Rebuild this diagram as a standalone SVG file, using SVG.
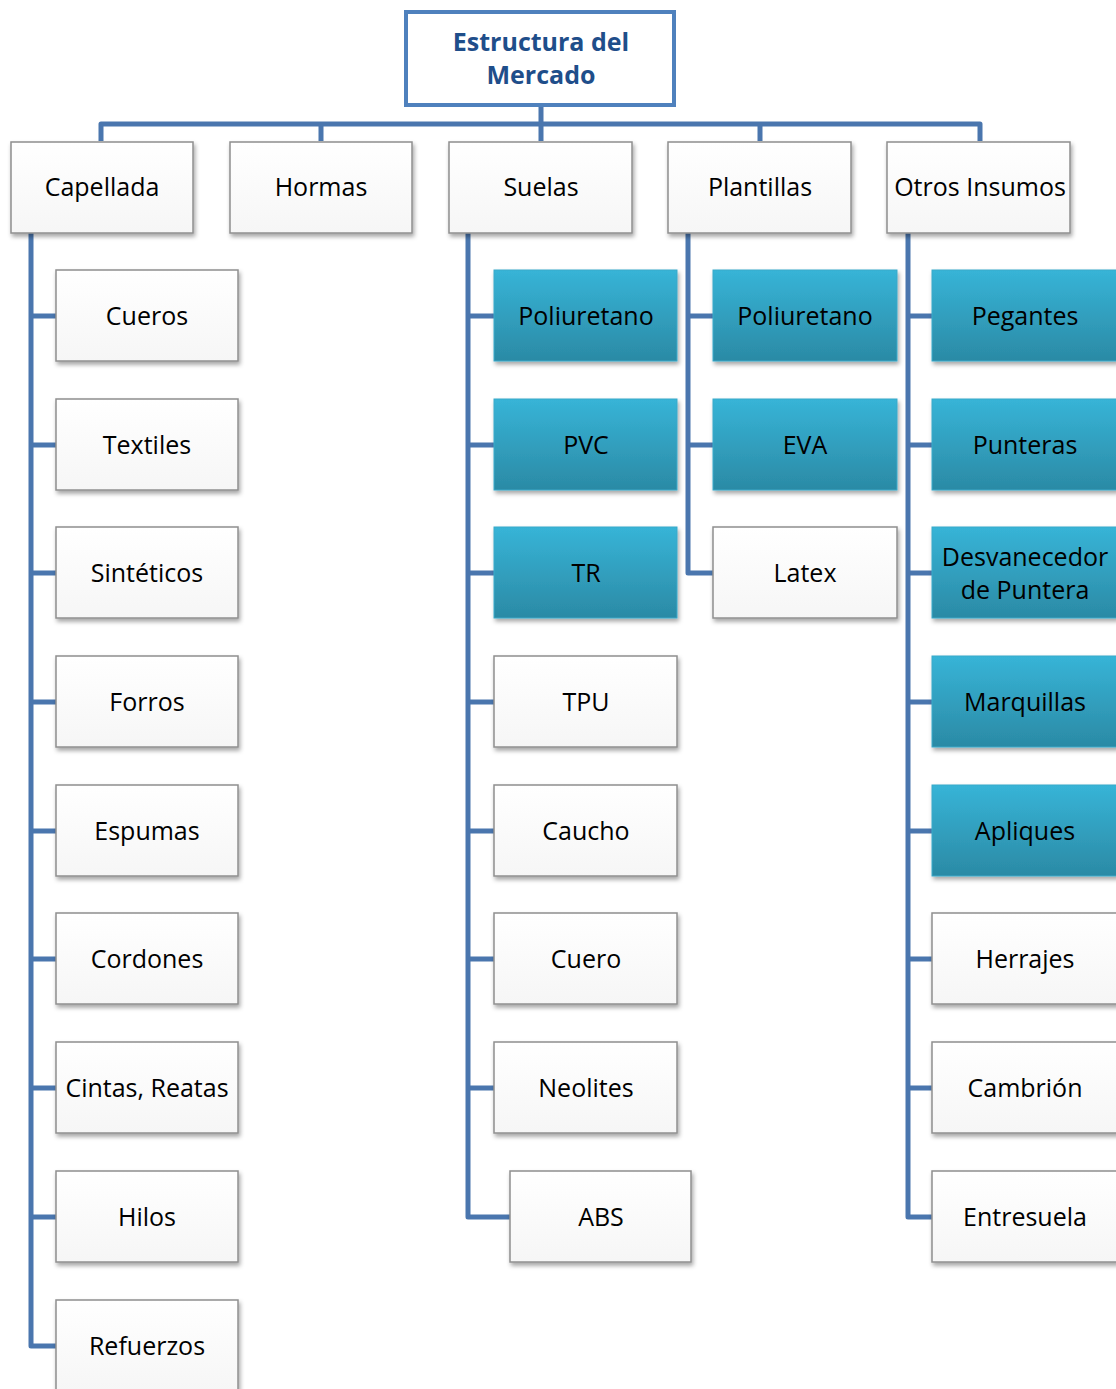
<svg xmlns="http://www.w3.org/2000/svg" width="1116" height="1389" viewBox="0 0 1116 1389">
  <defs>
    <linearGradient id="gWhite" x1="0" y1="0" x2="0" y2="1">
      <stop offset="0" stop-color="#ffffff"/>
      <stop offset="1" stop-color="#f6f6f6"/>
    </linearGradient>
    <linearGradient id="gTeal" x1="0" y1="0" x2="0" y2="1">
      <stop offset="0" stop-color="#37b4d7"/>
      <stop offset="1" stop-color="#2b8aa5"/>
    </linearGradient>
    <filter id="shadow" x="-10%" y="-10%" width="125%" height="130%">
      <feDropShadow dx="1.5" dy="3" stdDeviation="2" flood-color="#000" flood-opacity="0.35"/>
    </filter>
  </defs>
  <style>
    .conn { fill: none; stroke: #4a76ae; stroke-width: 5; stroke-linejoin: round; }
    .box { fill: url(#gWhite); stroke: #8f8f8f; stroke-width: 1.5; filter: url(#shadow); }
    .teal { fill: url(#gTeal); stroke: #3aa9c9; stroke-width: 1; filter: url(#shadow); }
    .root { fill: #ffffff; stroke: #4f81bd; stroke-width: 4; }
    .lbl { font-family: "Open Sans", "Liberation Sans", sans-serif; font-size: 25px; fill: #000; text-anchor: middle; }
    .ttl { font-family: "Open Sans", "Liberation Sans", sans-serif; font-size: 25px; font-weight: bold; fill: #1f4e8a; text-anchor: middle; }
  </style>
  <rect width="1116" height="1389" fill="#ffffff"/>

  <g id="connectors">
    <!-- root to level 1 bus -->
    <path class="conn" d="M541 106 V124 M101 141 V124 H980 V141 M321 124 V141 M541 124 V141 M760 124 V141"/>
    <!-- Capellada -->
    <path class="conn" d="M31 233 V1346 H56 M31 316 H56 M31 445 H56 M31 573 H56 M31 702 H56 M31 831 H56 M31 959 H56 M31 1088 H56 M31 1217 H56"/>
    <!-- Suelas -->
    <path class="conn" d="M468 233 V1217 H510 M468 316 H494 M468 445 H494 M468 573 H494 M468 702 H494 M468 831 H494 M468 959 H494 M468 1088 H494"/>
    <!-- Plantillas -->
    <path class="conn" d="M688 233 V573 H713 M688 316 H713 M688 445 H713"/>
    <!-- Otros Insumos -->
    <path class="conn" d="M908 233 V1217 H932 M908 316 H932 M908 445 H932 M908 573 H932 M908 702 H932 M908 831 H932 M908 959 H932 M908 1088 H932"/>
  </g>

  <g id="root">
    <rect class="root" x="406" y="12" width="268" height="93"/>
    <text class="ttl" x="541" y="51">Estructura del</text>
    <text class="ttl" x="541" y="84">Mercado</text>
  </g>

  <!-- level 1 -->
  <g id="capellada"><rect class="box" x="11" y="142" width="182" height="91"/><text class="lbl" x="102" y="196">Capellada</text></g>
  <g id="hormas"><rect class="box" x="230" y="142" width="182" height="91"/><text class="lbl" x="321" y="196">Hormas</text></g>
  <g id="suelas"><rect class="box" x="449" y="142" width="183" height="91"/><text class="lbl" x="541" y="196">Suelas</text></g>
  <g id="plantillas"><rect class="box" x="668" y="142" width="183" height="91"/><text class="lbl" x="760" y="196">Plantillas</text></g>
  <g id="otros-insumos"><rect class="box" x="887" y="142" width="183" height="91"/><text class="lbl" x="980" y="196">Otros Insumos</text></g>

  <!-- Capellada children -->
  <g id="cueros"><rect class="box" x="56" y="270" width="182" height="91"/><text class="lbl" x="147" y="325">Cueros</text></g>
  <g id="textiles"><rect class="box" x="56" y="399" width="182" height="91"/><text class="lbl" x="147" y="454">Textiles</text></g>
  <g id="sinteticos"><rect class="box" x="56" y="527" width="182" height="91"/><text class="lbl" x="147" y="582">Sintéticos</text></g>
  <g id="forros"><rect class="box" x="56" y="656" width="182" height="91"/><text class="lbl" x="147" y="711">Forros</text></g>
  <g id="espumas"><rect class="box" x="56" y="785" width="182" height="91"/><text class="lbl" x="147" y="840">Espumas</text></g>
  <g id="cordones"><rect class="box" x="56" y="913" width="182" height="91"/><text class="lbl" x="147" y="968">Cordones</text></g>
  <g id="cintas-reatas"><rect class="box" x="56" y="1042" width="182" height="91"/><text class="lbl" x="147" y="1097">Cintas, Reatas</text></g>
  <g id="hilos"><rect class="box" x="56" y="1171" width="182" height="91"/><text class="lbl" x="147" y="1226">Hilos</text></g>
  <g id="refuerzos"><rect class="box" x="56" y="1300" width="182" height="91"/><text class="lbl" x="147" y="1355">Refuerzos</text></g>

  <!-- Suelas children -->
  <g id="suelas-poliuretano"><rect class="teal" x="494" y="270" width="183" height="91"/><text class="lbl" x="586" y="325">Poliuretano</text></g>
  <g id="pvc"><rect class="teal" x="494" y="399" width="183" height="91"/><text class="lbl" x="586" y="454">PVC</text></g>
  <g id="tr"><rect class="teal" x="494" y="527" width="183" height="91"/><text class="lbl" x="586" y="582">TR</text></g>
  <g id="tpu"><rect class="box" x="494" y="656" width="183" height="91"/><text class="lbl" x="586" y="711">TPU</text></g>
  <g id="caucho"><rect class="box" x="494" y="785" width="183" height="91"/><text class="lbl" x="586" y="840">Caucho</text></g>
  <g id="cuero"><rect class="box" x="494" y="913" width="183" height="91"/><text class="lbl" x="586" y="968">Cuero</text></g>
  <g id="neolites"><rect class="box" x="494" y="1042" width="183" height="91"/><text class="lbl" x="586" y="1097">Neolites</text></g>
  <g id="abs"><rect class="box" x="510" y="1171" width="181" height="91"/><text class="lbl" x="601" y="1226">ABS</text></g>

  <!-- Plantillas children -->
  <g id="plantillas-poliuretano"><rect class="teal" x="713" y="270" width="184" height="91"/><text class="lbl" x="805" y="325">Poliuretano</text></g>
  <g id="eva"><rect class="teal" x="713" y="399" width="184" height="91"/><text class="lbl" x="805" y="454">EVA</text></g>
  <g id="latex"><rect class="box" x="713" y="527" width="184" height="91"/><text class="lbl" x="805" y="582">Latex</text></g>

  <!-- Otros Insumos children -->
  <g id="pegantes"><rect class="teal" x="932" y="270" width="186" height="91"/><text class="lbl" x="1025" y="325">Pegantes</text></g>
  <g id="punteras"><rect class="teal" x="932" y="399" width="186" height="91"/><text class="lbl" x="1025" y="454">Punteras</text></g>
  <g id="desvanecedor"><rect class="teal" x="932" y="527" width="186" height="91"/><text class="lbl" x="1025" y="566">Desvanecedor</text><text class="lbl" x="1025" y="599">de Puntera</text></g>
  <g id="marquillas"><rect class="teal" x="932" y="656" width="186" height="91"/><text class="lbl" x="1025" y="711">Marquillas</text></g>
  <g id="apliques"><rect class="teal" x="932" y="785" width="186" height="91"/><text class="lbl" x="1025" y="840">Apliques</text></g>
  <g id="herrajes"><rect class="box" x="932" y="913" width="186" height="91"/><text class="lbl" x="1025" y="968">Herrajes</text></g>
  <g id="cambrion"><rect class="box" x="932" y="1042" width="186" height="91"/><text class="lbl" x="1025" y="1097">Cambrión</text></g>
  <g id="entresuela"><rect class="box" x="932" y="1171" width="186" height="91"/><text class="lbl" x="1025" y="1226">Entresuela</text></g>
</svg>
